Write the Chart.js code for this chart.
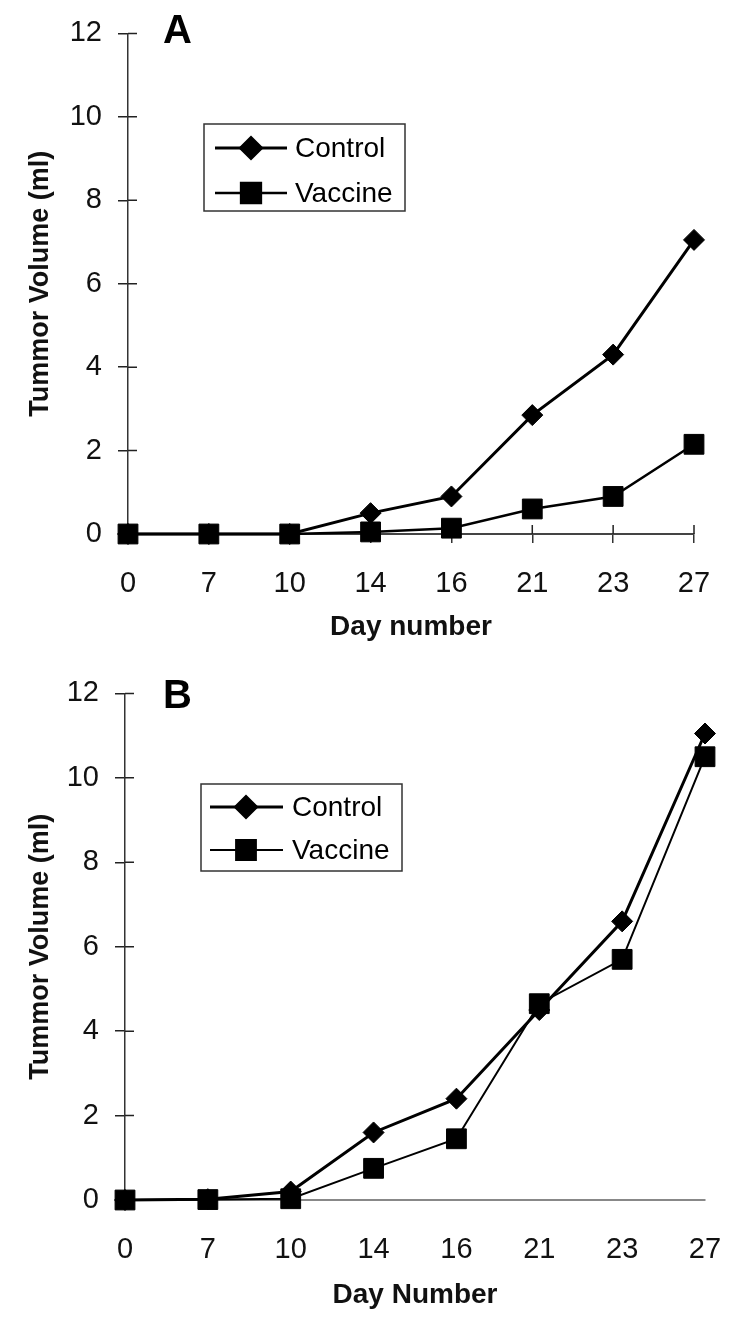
<!DOCTYPE html>
<html>
<head>
<meta charset="utf-8">
<script src="https://cdn.jsdelivr.net/npm/chart.js@4/dist/chart.umd.min.js"></script>
<style>
  body { margin: 0; background: #fff; }
  .wrap { position: relative; width: 750px; height: 1323px; }
  canvas { position: absolute; left: 0; }
  #chartA { top: 0; }
  #chartB { top: 660px; }
</style>
</head>
<body>
<div class="wrap">
  <canvas id="chartA" width="750" height="660"></canvas>
  <canvas id="chartB" width="750" height="663"></canvas>
</div>
<script>
// data
const days = ["0", "7", "10", "14", "16", "21", "23", "27"];
const controlA = [0, 0, 0, 0.5, 0.9, 2.85, 4.3, 7.05];
const vaccineA = [0, 0, 0, 0.05, 0.14, 0.6, 0.9, 2.15];
const controlB = [0, 0.02, 0.2, 1.6, 2.4, 4.5, 6.6, 11.05];
const vaccineB = [0, 0.01, 0.03, 0.75, 1.45, 4.65, 5.7, 10.5];
const yTicks = [0, 2, 4, 6, 8, 10, 12];

const FONT = '"Liberation Sans", Arial, Helvetica, sans-serif';

// inner half of the tick marks + panel letter + boxed legend
const decoPlugin = {
  id: "deco",
  beforeDatasetsDraw(chart, args, opts) {
    const ctx = chart.ctx;
    const area = chart.chartArea;
    const y = chart.scales.y;
    const x = chart.scales.x;
    ctx.save();
    ctx.strokeStyle = "#222";
    ctx.lineWidth = 1.5;
    ctx.beginPath();
    yTicks.forEach((v) => {
      const py = y.getPixelForValue(v);
      ctx.moveTo(area.left, py);
      ctx.lineTo(area.left + 9, py);
    });
    if (opts.xTicks) {
      days.forEach((d, i) => {
        const px = x.getPixelForValue(i);
        ctx.moveTo(px, area.bottom);
        ctx.lineTo(px, area.bottom - 9);
      });
    }
    ctx.stroke();
    ctx.restore();
  },
  afterDraw(chart, args, opts) {
    const ctx = chart.ctx;
    ctx.save();
    // panel letter
    ctx.fillStyle = "#000";
    ctx.font = "bold 40px " + FONT;
    ctx.textBaseline = "alphabetic";
    ctx.fillText(opts.letter, opts.letterX, opts.letterY);

    // legend box
    const b = opts.box;
    ctx.strokeStyle = "#333";
    ctx.lineWidth = 1.5;
    ctx.strokeRect(b.x, b.y, b.w, b.h);
    chart.data.datasets.forEach((ds, i) => {
      const ry = opts.rows[i];
      ctx.beginPath();
      ctx.moveTo(opts.lineX[0], ry);
      ctx.lineTo(opts.lineX[1], ry);
      ctx.lineWidth = ds.borderWidth;
      ctx.strokeStyle = "#000";
      ctx.stroke();
      ctx.fillStyle = "#000";
      ctx.strokeStyle = "#000";
      Chart.helpers.drawPoint(
        ctx,
        { pointStyle: ds.pointStyle, radius: ds.pointRadius, rotation: 0, borderWidth: 1 },
        opts.markX,
        ry
      );
      ctx.fillStyle = "#000";
      ctx.font = "28px " + FONT;
      ctx.textBaseline = "middle";
      ctx.fillText(ds.label, opts.textX, ry + 1);
    });
    ctx.restore();
  },
};

function makeChart(id, control, vaccine, cfg) {
  const ctx = document.getElementById(id).getContext("2d");
  return new Chart(ctx, {
    type: "line",
    data: {
      labels: days,
      datasets: [
        {
          label: "Control",
          data: control,
          borderColor: "#000",
          backgroundColor: "#000",
          borderWidth: 3,
          pointStyle: "rectRot",
          pointRadius: 10.5,
          pointBorderWidth: 1,
          tension: 0,
          clip: false,
        },
        {
          label: "Vaccine",
          data: vaccine,
          borderColor: "#000",
          backgroundColor: "#000",
          borderWidth: cfg.vaccineWidth,
          pointStyle: "rect",
          pointRadius: 14,
          pointBorderWidth: 1,
          tension: 0,
          clip: false,
        },
      ],
    },
    options: {
      responsive: false,
      animation: false,
      devicePixelRatio: 1,
      layout: { padding: { left: 0, top: cfg.top, right: cfg.right, bottom: 0 } },
      plugins: {
        legend: { display: false },
        tooltip: { enabled: false },
        deco: cfg.deco,
      },
      scales: {
        x: {
          type: "category",
          offset: false,
          border: { display: true, color: cfg.xAxisColor, width: 2 },
          grid: {
            drawOnChartArea: false,
            drawTicks: true,
            tickLength: 9,
            color: cfg.xTickColor,
            lineWidth: 1.5,
          },
          ticks: {
            autoSkip: false,
            maxRotation: 0,
            padding: 24,
            color: "#111",
            font: { family: FONT, size: 29 },
          },
          title: {
            display: true,
            text: cfg.xTitle,
            color: "#111",
            font: { family: FONT, size: 28, weight: "bold" },
            padding: { top: 0, bottom: cfg.xTitlePad },
          },
          afterFit(scale) {
            scale.height = cfg.xHeight;
          },
        },
        y: {
          min: 0,
          max: 12,
          border: { display: true, color: "#333", width: 1.5 },
          grid: {
            drawOnChartArea: false,
            drawTicks: true,
            tickLength: 10,
            color: "#222",
            lineWidth: 1.5,
          },
          ticks: {
            stepSize: 2,
            padding: 16,
            color: "#111",
            font: { family: FONT, size: 29 },
          },
          title: {
            display: true,
            text: "Tummor Volume (ml)",
            color: "#111",
            font: { family: FONT, size: 27, weight: "bold" },
            padding: { top: 24, bottom: 0 },
          },
          afterFit(scale) {
            scale.width = cfg.yWidth;
          },
        },
      },
    },
    plugins: [decoPlugin],
  });
}

// panel A
makeChart("chartA", controlA, vaccineA, {
  top: 23,
  right: 56,
  yWidth: 128,
  xHeight: 126,
  xTitle: "Day number",
  xTitlePad: 16,
  vaccineWidth: 2.5,
  xAxisColor: "#444",
  xTickColor: "#333",
  deco: {
    xTicks: true,
    letter: "A",
    letterX: 163,
    letterY: 43,
    box: { x: 204, y: 124, w: 201, h: 87 },
    rows: [148, 193],
    lineX: [215, 287],
    markX: 251,
    textX: 295,
  },
});

// panel B
makeChart("chartB", controlB, vaccineB, {
  top: 28,
  right: 45,
  yWidth: 125,
  xHeight: 123,
  xTitle: "Day Number",
  xTitlePad: 11,
  vaccineWidth: 2,
  xAxisColor: "#888",
  xTickColor: "rgba(0,0,0,0)",
  deco: {
    xTicks: false,
    letter: "B",
    letterX: 163,
    letterY: 48,
    box: { x: 201, y: 124, w: 201, h: 87 },
    rows: [147, 190],
    lineX: [210, 283],
    markX: 246,
    textX: 292,
  },
});
</script>
</body>
</html>
